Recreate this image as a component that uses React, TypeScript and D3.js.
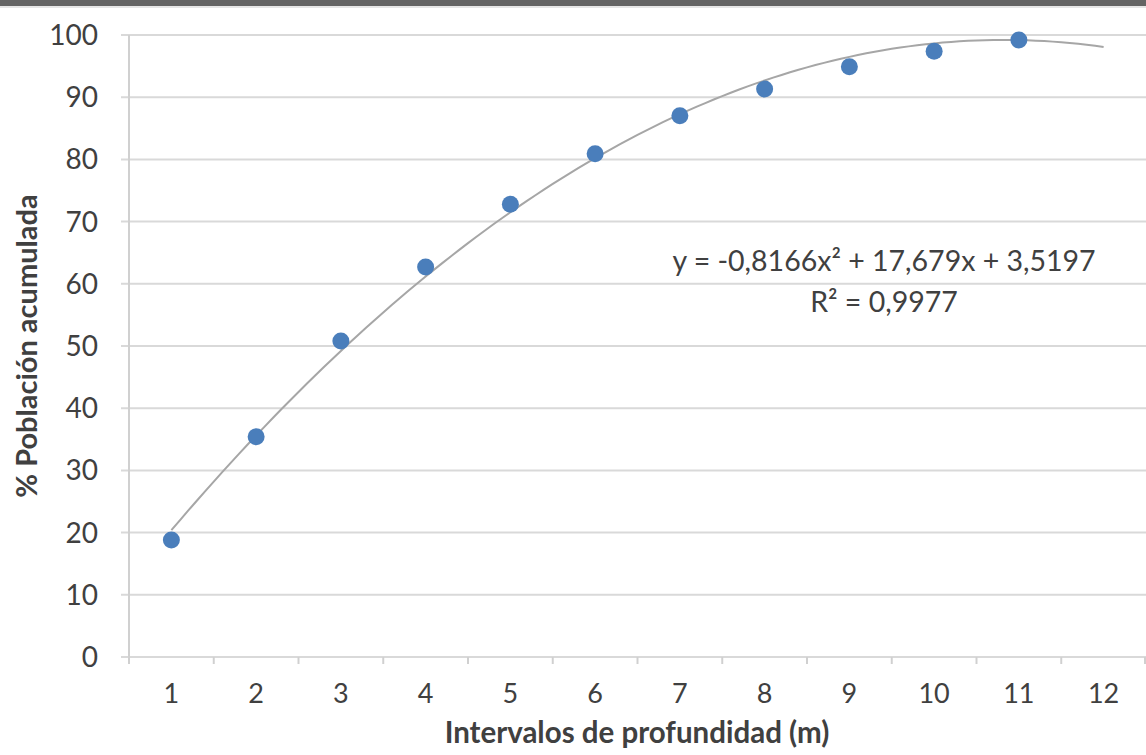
import React from 'react';
import * as d3 from 'd3';

// depth intervals (m) and cumulative population %
const intervals = [1, 2, 3, 4, 5, 6, 7, 8, 9, 10, 11, 12];
const poblacion = [18.8, 35.4, 50.8, 62.7, 72.8, 80.9, 87.0, 91.3, 94.9, 97.4, 99.2];
const yTicks = [0, 10, 20, 30, 40, 50, 60, 70, 80, 90, 100];
// quadratic trendline coefficients shown on the chart: a*x^2 + b*x + c
const trendCoef = [-0.8166, 17.679, 3.5197];
const trendLabel = 'y = -0,8166x² + 17,679x + 3,5197';
const r2Label = 'R² = 0,9977';

const W = 1146;
const H = 755;
const font = 'Lato, "Open Sans", sans-serif';

export default function App() {
  const margin = { top: 35, right: 0, bottom: 98, left: 129 };

  const x = d3
    .scaleBand<number>()
    .domain(intervals)
    .range([margin.left, W - margin.right]);
  const y = d3
    .scaleLinear()
    .domain([0, 100])
    .range([H - margin.bottom, margin.top]);

  const cx = (d: number) => (x(d) as number) + x.bandwidth() / 2;

  const [a, b, c] = trendCoef;
  const trendX = d3.range(1, 12.001, 0.1);
  const line = d3
    .line<number>()
    .x((d) => margin.left + (d - 0.5) * x.bandwidth())
    .y((d) => y(a * d * d + b * d + c));

  const ticksX = [...intervals.map((d) => x(d) as number), W - 1];

  return (
    <svg
      width={W}
      height={H}
      style={{ position: 'absolute', left: 0, top: 0, background: '#fff' }}
      fontFamily={font}
    >
      <rect x={0} y={0} width={W} height={6} fill="#646464" />
      <rect x={0} y={6} width={W} height={2} fill="#e6e6e6" />

      {/* grid */}
      {yTicks.map((t) => (
        <g key={t}>
          <line x1={margin.left - 8} x2={W} y1={y(t)} y2={y(t)} stroke="#d9d9d9" strokeWidth={2} />
          <text
            x={98}
            y={y(t)}
            dy="0.36em"
            textAnchor="end"
            fontSize={28}
            fill="#404040"
          >
            {t}
          </text>
        </g>
      ))}

      {/* axes */}
      <line x1={margin.left} x2={margin.left} y1={margin.top} y2={y(0)} stroke="#d0d0d0" strokeWidth={2} />
      {ticksX.map((tx, i) => (
        <line key={i} x1={tx} x2={tx} y1={y(0)} y2={y(0) + 7} stroke="#d0d0d0" strokeWidth={2} />
      ))}
      {intervals.map((d) => (
        <text key={d} x={cx(d)} y={y(0) + 46} textAnchor="middle" fontSize={27} fill="#404040">
          {d}
        </text>
      ))}

      {/* trendline */}
      <path d={line(trendX) ?? ''} fill="none" stroke="#a6a6a6" strokeWidth={2} />

      {/* points */}
      {poblacion.map((v, i) => (
        <circle key={i} cx={cx(intervals[i])} cy={y(v)} r={8.5} fill="#4a7ebb" />
      ))}

      <text x={884} y={271} textAnchor="middle" fontSize={28.5} fill="#404040">
        {trendLabel}
      </text>
      <text x={884} y={312} textAnchor="middle" fontSize={28.5} fill="#404040">
        {r2Label}
      </text>

      <text
        transform={`translate(37, ${(margin.top + y(0)) / 2}) rotate(-90)`}
        textAnchor="middle"
        fontSize={29}
        fontWeight="bold"
        fill="#404040"
      >
        % Población acumulada
      </text>
      <text x={637} y={743} textAnchor="middle" fontSize={29.5} fontWeight="bold" fill="#404040">
        Intervalos de profundidad (m)
      </text>
    </svg>
  );
}
